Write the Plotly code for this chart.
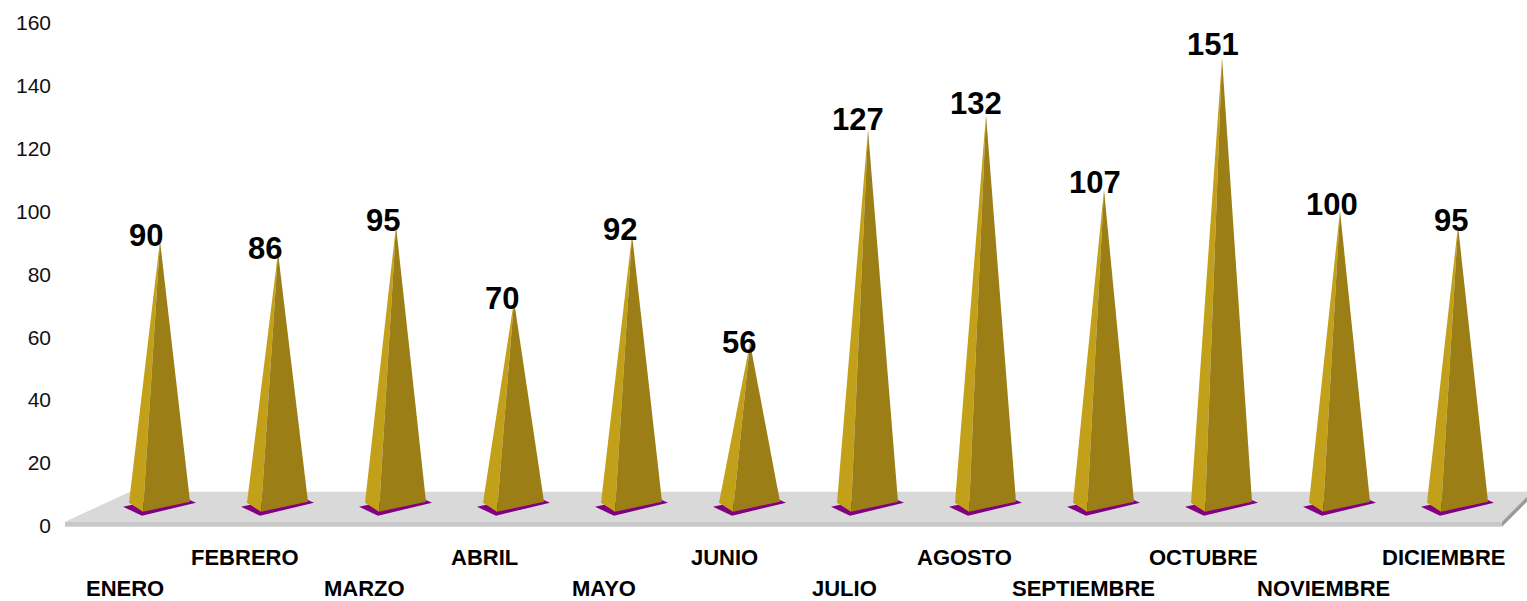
import plotly.graph_objects as go

# ---- data ----
months = ["ENERO", "FEBRERO", "MARZO", "ABRIL", "MAYO", "JUNIO",
          "JULIO", "AGOSTO", "SEPTIEMBRE", "OCTUBRE", "NOVIEMBRE", "DICIEMBRE"]
values = [90, 86, 95, 70, 92, 56, 127, 132, 107, 151, 100, 95]
y_ticks = [0, 20, 40, 60, 80, 100, 120, 140, 160]

# ---- styling / 3D-look geometry (axis units) ----
PX_X = 118.0            # px per category
PX_Y = 509.0 / 162.0    # px per value unit
LIGHT = "#C2A01A"
DARK = "#9C7E16"
PURPLE = "#800080"
FLOOR_TOP = "#D9D9D9"
FLOOR_FRONT = "#C8C8C8"
FLOOR_SIDE = "#9A9A9A"
FONT = "Liberation Sans, Arial, sans-serif"

def dx(px):
    return px / PX_X

def dy(px):
    return px / PX_Y

fig = go.Figure()

def poly(xs, ys, color):
    fig.add_trace(go.Scatter(x=xs + [xs[0]], y=ys + [ys[0]], mode="lines",
                             fill="toself", fillcolor=color,
                             line=dict(width=0, color=color),
                             hoverinfo="skip", showlegend=False))

# floor (3D base plate)
x_fl = -0.805
x_bl = -0.254
x_fr = len(months) - 1 + dx(44)
x_br = len(months) - 1 + dx(69)
y_front = dy(4)
y_back = dy(34)
y_bottom = -dy(1)
poly([x_fl, x_bl, x_br, x_br, x_fr], [y_front, y_back, y_back, dy(29), y_front], FLOOR_TOP)
poly([x_fl, x_fr, x_fr, x_fl], [y_front, y_front, y_bottom, y_bottom], FLOOR_FRONT)
poly([x_fr, x_br, x_br, x_fr], [y_front, dy(29), dy(24), y_bottom], FLOOR_SIDE)

# pyramids
for i, v in enumerate(values):
    cx = i
    apex = dy(15) + 0.955 * v
    # purple base shadow
    poly([cx - dx(37), cx - dx(18), cx + dx(36), cx + dx(18)],
         [dy(19), dy(10), dy(23), dy(31)], PURPLE)
    left = (cx - dx(31), dy(23))
    front = (cx - dx(17), dy(14))
    right = (cx + dx(30), dy(24))
    top = (cx, apex)
    poly([left[0], front[0], top[0]], [left[1], front[1], top[1]], LIGHT)
    poly([front[0], right[0], top[0]], [front[1], right[1], top[1]], DARK)

annotations = []
# value labels
for i, v in enumerate(values):
    annotations.append(dict(x=i + dx(-14 + 0.6 * i), y=v, xref="x", yref="y",
                            text=f"<b>{v}</b>", showarrow=False, yshift=7,
                            xanchor="center", yanchor="middle",
                            font=dict(family=FONT, size=31, color="#000000")))
# category labels (staggered)
for i, m in enumerate(months):
    shift = -32 if i % 2 == 1 else -62.5
    annotations.append(dict(x=i + dx(-35 + 1.86 * i), y=0, xref="x", yref="y",
                            text=f"<b>{m}</b>", showarrow=False, yshift=shift,
                            xanchor="center", yanchor="middle",
                            font=dict(family=FONT, size=22, color="#000000")))

fig.update_layout(
    width=1527, height=601,
    margin=dict(l=52, r=0, t=23, b=69),
    paper_bgcolor="white", plot_bgcolor="white",
    showlegend=False,
    annotations=annotations,
    xaxis=dict(range=[(52 - 160) / PX_X, (1527 - 160) / PX_X], visible=False,
               fixedrange=True),
    yaxis=dict(range=[-2, 160], tickvals=y_ticks, ticktext=[str(t) for t in y_ticks],
               showgrid=False, zeroline=False, showline=False, ticks="",
               tickfont=dict(family=FONT, size=21, color="#111111"),
               fixedrange=True),
)

fig.write_html("out.html")
